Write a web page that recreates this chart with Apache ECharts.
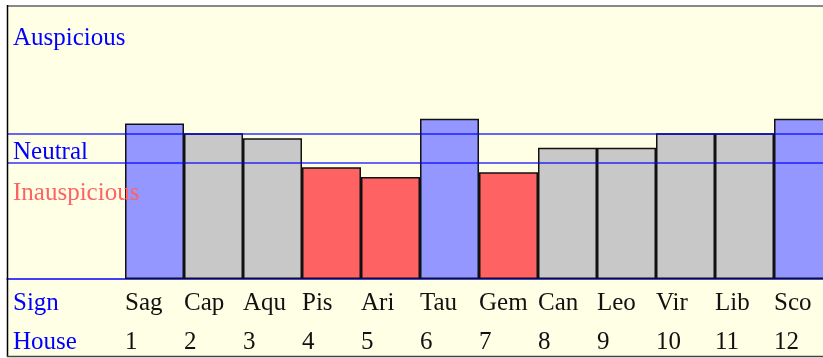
<!DOCTYPE html>
<html>
<head>
<meta charset="utf-8">
<script src="https://cdn.jsdelivr.net/npm/echarts@6/dist/echarts.min.js"></script>
<style>
  html, body { margin: 0; padding: 0; background: #ffffff; }
  #chart { width: 823px; height: 358px; }
</style>
</head>
<body>
<div id="chart"></div>
<script>
// Sarvashtakavarga bindus per sign, in house order from the ascendant
const signs = ['Sag', 'Cap', 'Aqu', 'Pis', 'Ari', 'Tau', 'Gem', 'Can', 'Leo', 'Vir', 'Lib', 'Sco'];
const houses = ['1', '2', '3', '4', '5', '6', '7', '8', '9', '10', '11', '12'];
const bindus = [32, 30, 29, 23, 21, 33, 22, 27, 27, 30, 30, 33];
const neutralHigh = 30;
const neutralLow = 24;
const rowTitles = ['Sign', 'House'];

const BLUE = '#9397ff', GREY = '#c8c8c8', RED = '#ff6262';
const INK = '#0000ff', BG = '#ffffe6';
const SERIF = "'Liberation Serif', 'Times New Roman', serif";
const FS = 25;

function colorFor(v) {
  if (v > neutralHigh) return BLUE;
  if (v < neutralLow) return RED;
  return GREY;
}

// two blank bands on the left hold the row titles
const bandCats = ['', ''].concat(signs);
const barData = [null, null].concat(bindus.map(v => ({ value: v, itemStyle: { color: colorFor(v) } })));

// label axes put their ticks on band edges, so labels sit at each bar's left side
const signLabels = [rowTitles[0], ''].concat(signs, ['']);
const houseLabels = [rowTitles[1], ''].concat(houses, ['']);

function labelAxis(data, margin) {
  return {
    type: 'category',
    data: data,
    boundaryGap: false,
    position: 'bottom',
    axisLine: { show: false },
    axisTick: { show: false },
    splitLine: { show: false },
    axisLabel: {
      interval: 0,
      margin: margin,
      align: 'left',
      verticalAlign: 'middle',
      fontFamily: SERIF,
      fontSize: FS,
      color: '#111',
      hideOverlap: false,
      formatter: function (v, i) {
        return i === 0 ? '{t|' + v + '}' : v;
      },
      rich: {
        t: { color: INK, fontFamily: SERIF, fontSize: FS, padding: [0, 0, 0, 6] }
      }
    }
  };
}

function bandText(text, top, color) {
  return {
    type: 'text', z: 100, left: 13, top: top,
    style: { text: text, fill: color, fontFamily: SERIF, fontSize: FS }
  };
}

const chart = echarts.init(document.getElementById('chart'), null, { renderer: 'canvas' });

chart.setOption({
  animation: false,
  backgroundColor: '#ffffff',
  grid: { left: 7, top: 7, width: 826, bottom: 79, containLabel: false, outerBoundsMode: 'none' },
  xAxis: [
    {
      type: 'category',
      data: bandCats,
      boundaryGap: true,
      axisLine: { show: true, lineStyle: { color: INK, width: 1.5 } },
      axisTick: { show: false },
      axisLabel: { show: false },
      splitLine: { show: false }
    },
    labelAxis(signLabels, 24),
    labelAxis(houseLabels, 63)
  ],
  yAxis: { type: 'value', min: 0, max: 56, show: false },
  graphic: [
    { type: 'rect', z: -100, shape: { x: 7, y: 5, width: 830, height: 352 }, style: { fill: BG } },
    { type: 'line', z: 100, shape: { x1: 7, y1: 6, x2: 830, y2: 6 }, style: { stroke: '#888888', lineWidth: 2 } },
    { type: 'line', z: 100, shape: { x1: 7.5, y1: 5, x2: 7.5, y2: 357 }, style: { stroke: '#000000', lineWidth: 1.5 } },
    { type: 'line', z: 100, shape: { x1: 7, y1: 356.5, x2: 830, y2: 356.5 }, style: { stroke: '#444444', lineWidth: 1.5 } },
    bandText('Auspicious', 26, INK),
    bandText('Neutral', 140, INK),
    bandText('Inauspicious', 181, RED)
  ],
  series: [
    {
      type: 'bar',
      xAxisIndex: 0,
      data: barData,
      barWidth: '100%',
      barCategoryGap: 0,
      itemStyle: { borderColor: '#111111', borderWidth: 1.5 },
      markLine: {
        silent: true,
        symbol: 'none',
        label: { show: false },
        lineStyle: { color: INK, width: 1.5, type: 'solid', opacity: 0.8 },
        data: [{ yAxis: neutralHigh }, { yAxis: neutralLow }]
      }
    }
  ]
});
</script>
</body>
</html>
